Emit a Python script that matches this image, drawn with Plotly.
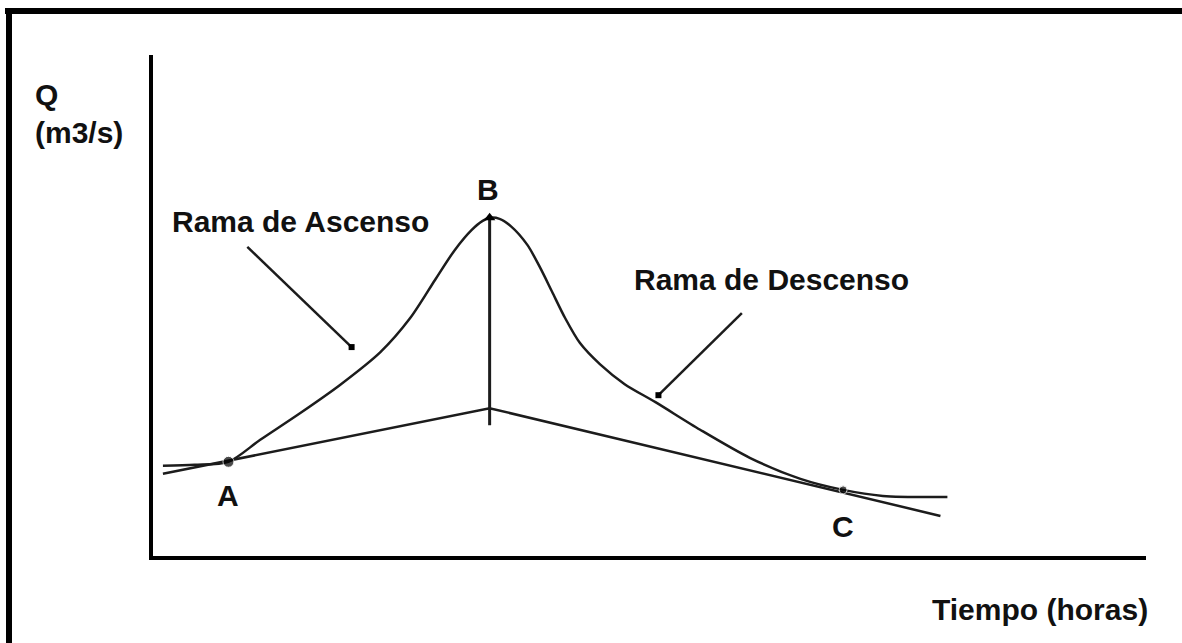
import plotly.graph_objects as go

hydro_t = [1.0, 4.2, 7.6, 10.8, 14.8, 18.8, 22.9, 25.9, 28.4, 30.4, 32.1, 33.2,
           33.9, 34.9, 36.0, 37.7, 39.0, 40.2, 41.5, 43.0, 45.0, 47.5, 50.6,
           55.1, 60.1, 65.2, 69.5, 73.5, 80.0]
hydro_q = [18.0, 18.2, 18.8, 23.2, 28.5, 34.1, 40.7, 47.5, 55.1, 61.1, 65.1, 66.9,
           67.5, 67.3, 65.9, 62.1, 57.5, 52.7, 47.5, 42.5, 38.3, 34.3, 30.7,
           25.2, 19.6, 15.4, 13.2, 12.0, 11.8]

base_t = [1.0, 33.9, 79.3]
base_q = [16.4, 29.5, 8.0]

peak_t = 33.9
peak_q = 67.5
peak_base_q = 26.1

point_names = ["A", "B", "C"]
point_t = [7.6, 33.9, 69.5]
point_q = [18.8, 67.5, 13.2]
label_t = [7.6, 33.7, 69.5]
label_q = [12.0, 73.1, 5.8]

branch_names = ["Rama de Ascenso", "Rama de Descenso"]
branch_label_t = [14.9, 62.3]
branch_label_q = [66.7, 55.1]
leader_from_t = [9.5, 59.3]
leader_from_q = [61.7, 48.5]
leader_to_t = [20.0, 50.9]
leader_to_q = [41.7, 32.1]

y_title = ["Q", "(m3/s)"]
x_title = "Tiempo (horas)"

W, H = 1182, 643
FONT = dict(family="Liberation Sans, Arial, sans-serif", size=30,
            color="#111111", weight="bold")
INK = "#1c1c1c"

fig = go.Figure()

# rama de ascenso / descenso
fig.add_trace(go.Scatter(x=hydro_t, y=hydro_q, mode="lines",
                         line=dict(color=INK, width=2.5, shape="spline",
                                   smoothing=0.8),
                         hoverinfo="skip"))
# flujo base
fig.add_trace(go.Scatter(x=base_t, y=base_q, mode="lines",
                         line=dict(color=INK, width=2.5), hoverinfo="skip"))
# vertical del pico
fig.add_trace(go.Scatter(x=[peak_t, peak_t], y=[peak_base_q, peak_q],
                         mode="lines", line=dict(color=INK, width=3),
                         hoverinfo="skip"))
fig.add_trace(go.Scatter(x=[peak_t], y=[peak_q], mode="markers",
                         marker=dict(symbol="triangle-up", size=10, color="#000"),
                         hoverinfo="skip"))
# puntos A y C
fig.add_trace(go.Scatter(x=[point_t[0], point_t[2]], y=[point_q[0], point_q[2]],
                         mode="markers",
                         marker=dict(size=[11, 8], color="#000"),
                         hoverinfo="skip"))

# líneas guía con punto final
for i in range(len(branch_names)):
    fig.add_trace(go.Scatter(x=[leader_from_t[i], leader_to_t[i]],
                             y=[leader_from_q[i], leader_to_q[i]],
                             mode="lines", line=dict(color=INK, width=2.5),
                             hoverinfo="skip"))
    fig.add_trace(go.Scatter(x=[leader_to_t[i]], y=[leader_to_q[i]],
                             mode="markers",
                             marker=dict(symbol="square", size=6, color="#000"),
                             hoverinfo="skip"))
    fig.add_annotation(x=branch_label_t[i], y=branch_label_q[i],
                       text=branch_names[i], showarrow=False, font=FONT)

for name, tx, qy in zip(point_names, label_t, label_q):
    fig.add_annotation(x=tx, y=qy, text=name, showarrow=False, font=FONT)

# títulos de ejes
fig.add_annotation(xref="paper", yref="paper", x=33 / W, y=1 - 95 / H,
                   xanchor="left", yanchor="middle", text=y_title[0],
                   showarrow=False, font=FONT)
fig.add_annotation(xref="paper", yref="paper", x=33 / W, y=1 - 132 / H,
                   xanchor="left", yanchor="middle", text=y_title[1],
                   showarrow=False, font=FONT)
fig.add_annotation(xref="paper", yref="paper", x=1040 / W, y=1 - 609 / H,
                   xanchor="center", yanchor="middle", text=x_title,
                   showarrow=False, font=FONT)

# marco exterior
fig.add_shape(type="line", xref="paper", yref="paper",
              x0=5 / W, x1=1, y0=1 - 11 / H, y1=1 - 11 / H,
              line=dict(color="#000", width=6))
fig.add_shape(type="line", xref="paper", yref="paper",
              x0=9 / W, x1=9 / W, y0=0, y1=1 - 8 / H,
              line=dict(color="#000", width=6))

fig.update_layout(
    width=W, height=H,
    margin=dict(l=0, r=0, t=0, b=0),
    paper_bgcolor="white", plot_bgcolor="white",
    showlegend=False,
    xaxis=dict(domain=[153 / W, 1146 / W], range=[0, 100],
               showline=True, linecolor="#000", linewidth=4,
               showgrid=False, zeroline=False, showticklabels=False,
               ticks=""),
    yaxis=dict(domain=[1 - 556 / H, 1 - 55 / H], range=[0, 100],
               showline=True, linecolor="#000", linewidth=4,
               showgrid=False, zeroline=False, showticklabels=False,
               ticks=""),
)

fig.write_html("out.html",
               config={"displayModeBar": False},
               post_script="document.body.style.margin='0';"
                           "document.body.style.overflow='hidden';")
